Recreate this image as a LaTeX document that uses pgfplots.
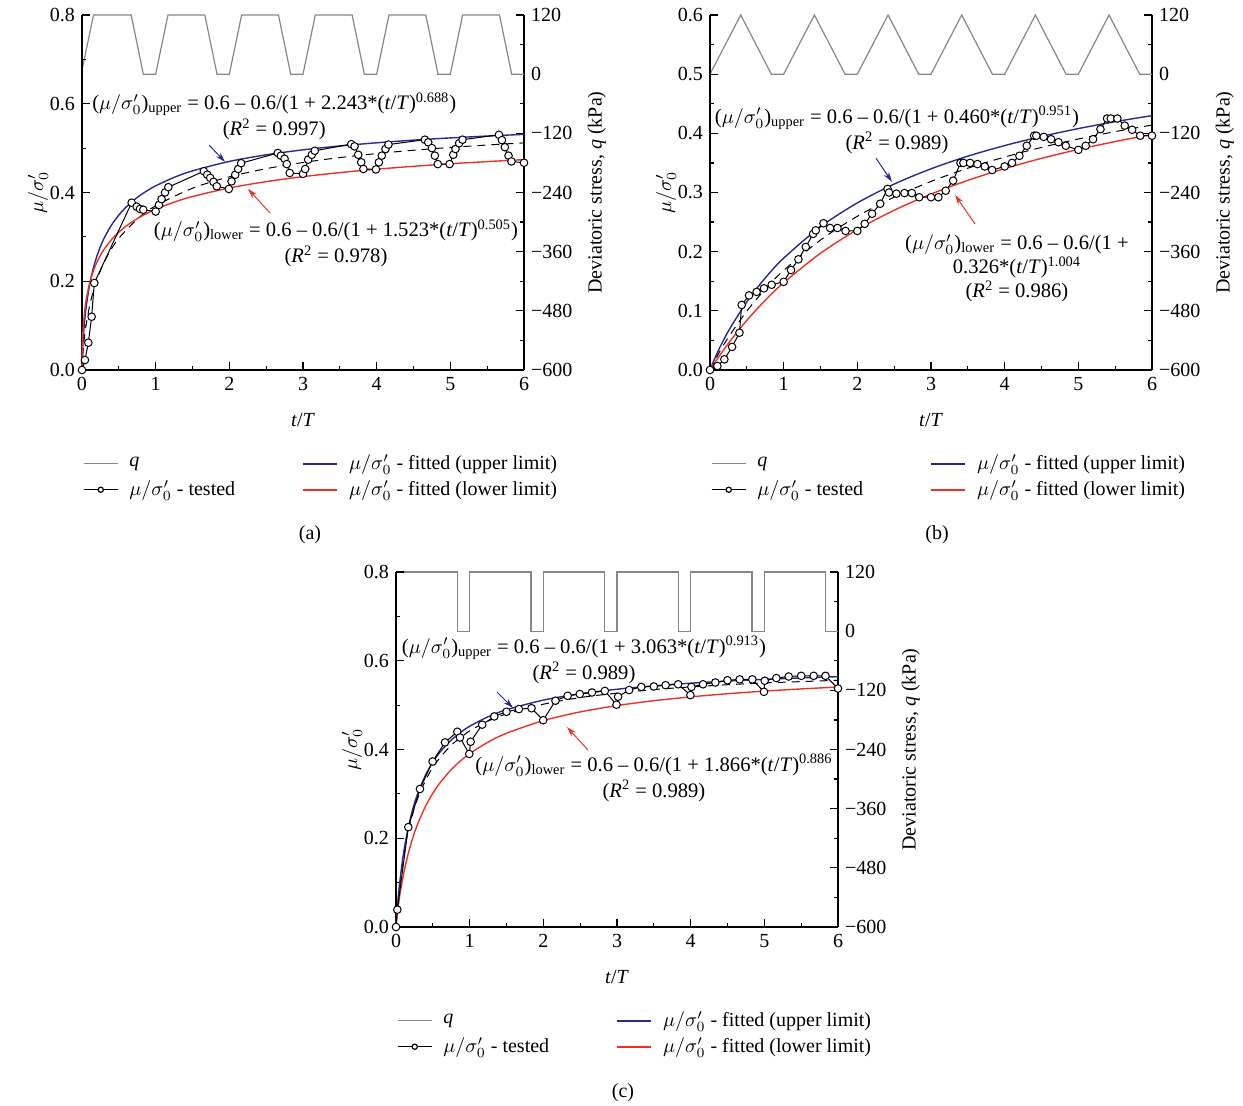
\documentclass[border=0pt]{standalone}
\usepackage{pgfplots}
\pgfplotsset{compat=1.18}
\usepackage{fontspec}
\setmainfont{Liberation Serif}
\usetikzlibrary{arrows.meta}
\definecolor{fitBlue}{RGB}{40,40,150}
\definecolor{fitRed}{RGB}{237,50,36}
\definecolor{qGray}{RGB}{135,135,135}

\tikzset{
  note/.style={align=center, font=\fontsize{10.3}{13}\selectfont},
  upar/.style={fitBlue, line width=0.5pt, -{Stealth[length=5pt,width=3pt]}},
  lowar/.style={fitRed, line width=0.5pt, -{Stealth[length=5pt,width=3pt]}},
}
\pgfplotsset{
  panel/.style={scale only axis, width=221pt, height=177.5pt, xmin=0, xmax=6,
    tick align=inside, major tick length=4pt, minor tick length=2pt,
    every tick/.style={black, line width=0.6pt}, axis line style={line width=0.8pt},
    font=\fontsize{10}{12}\selectfont, clip=false},
  leftax/.style={panel, axis x line*=bottom, axis y line*=left,
    xtick={0,...,6}, xticklabels={0,1,2,3,4,5,6}, minor x tick num=1,
    xlabel={\textit{t}/\textit{T}}, ylabel={$\mu/\sigma'_0$},
    x label style={at={(axis description cs:0.5,-0.141)}, anchor=center},
    y label style={at={(axis description cs:-0.0995,0.5)}, anchor=center},
    legend style={draw=none, fill=none, at={(axis description cs:-0.012,-0.215)},
      anchor=north west, font=\fontsize{10}{12}\selectfont,
      /tikz/every odd column/.append style={column sep=3.5pt},
      /tikz/every even column/.append style={column sep=31.5pt}},
    legend columns=2, legend cell align=left},
  rightax/.style={panel, axis x line=none, axis y line*=right,
    ymin=-600, ymax=120, ytick={-600,-480,...,120},
    yticklabels={−600,−480,−360,−240,−120,0,120}, minor y tick num=1,
    ylabel={Deviatoric stress, \textit{q} (kPa)},
    y label style={at={(axis description cs:1.165,0.5)}, anchor=center}},
  qline/.style={qGray, line width=0.6pt},
  upline/.style={fitBlue, line width=0.7pt},
  lowline/.style={fitRed, line width=0.7pt},
  meanline/.style={black, line width=0.5pt, dash pattern=on 4pt off 3pt},
  tested/.style={black, line width=0.5pt, mark=*, mark size=1.9pt,
    mark options={fill=white, draw=black, solid}},
}

\begin{document}
\begin{tikzpicture}

% ---------------- (a) ----------------
\begin{axis}[rightax, at={(41pt,368pt)}, anchor=south west]
\addplot[qline] coordinates {(0,8) (0.156,120) (0.667,120) (0.833,0) (1,0) (1.167,120) (1.667,120) (1.833,0) (2,0) (2.167,120) (2.667,120) (2.833,0) (3,0) (3.167,120) (3.667,120) (3.833,0) (4,0) (4.167,120) (4.667,120) (4.833,0) (5,0) (5.167,120) (5.667,120) (5.833,0) (6,0)};
\end{axis}
\begin{axis}[leftax, at={(41pt,368pt)}, anchor=south west,
  ymin=0, ymax=0.8, ytick={0,0.2,...,0.8}, yticklabels={0.0,0.2,0.4,0.6,0.8}, minor y tick num=1]
\addlegendimage{color=qGray, line width=0.6pt}\addlegendentry{\textit{q}}
\addlegendimage{color=fitBlue, line width=0.9pt}\addlegendentry{$\mu/\sigma'_0$ - fitted (upper limit)}
\addlegendimage{color=black, line width=0.6pt, mark=*, mark size=1.3pt, mark options={fill=white}}\addlegendentry{$\mu/\sigma'_0$ - tested}
\addlegendimage{color=fitRed, line width=0.9pt}\addlegendentry{$\mu/\sigma'_0$ - fitted (lower limit)}
\addplot[meanline, smooth, forget plot] coordinates {(0,0) (0.02,0.0534) (0.05,0.0951) (0.1,0.1418) (0.15,0.1756) (0.2,0.2022) (0.3,0.2428) (0.4,0.273) (0.5,0.2969) (0.75,0.3402) (1,0.37) (1.5,0.4096) (2,0.4353) (2.5,0.4537) (3,0.4676) (3.5,0.4787) (4,0.4877) (4.5,0.4952) (5,0.5015) (5.5,0.507) (6,0.5118)};
\addplot[upline, smooth, forget plot] coordinates {(0,0) (0.005,0.0332) (0.01,0.0518) (0.02,0.0792) (0.05,0.1333) (0.1,0.189) (0.15,0.2269) (0.2,0.2554) (0.25,0.2781) (0.3,0.297) (0.4,0.3266) (0.5,0.349) (0.6,0.3673) (0.75,0.389) (0.875,0.403) (1,0.415) (1.25,0.434) (1.5,0.4487) (2,0.470) (2.5,0.4849) (3,0.4961) (3.5,0.5049) (4,0.512) (4.5,0.518) (5,0.523) (5.5,0.5272) (6,0.531)};
\addplot[lowline, smooth, forget plot] coordinates {(0,0) (0.005,0.057) (0.01,0.0777) (0.02,0.1046) (0.05,0.1507) (0.1,0.1935) (0.15,0.2213) (0.2,0.242) (0.25,0.2584) (0.3,0.272) (0.4,0.2937) (0.5,0.3106) (0.6,0.3244) (0.75,0.3411) (0.875,0.3524) (1,0.3622) (1.25,0.3782) (1.5,0.3909) (2,0.4102) (2.5,0.4245) (3,0.4357) (3.5,0.4448) (4,0.4525) (4.5,0.459) (5,0.4647) (5.5,0.4696) (6,0.4741)};
\addplot[tested, forget plot] coordinates {(0,0) (0.04,0.0225) (0.086,0.0615) (0.131,0.12) (0.167,0.196) (0.674,0.377) (0.742,0.368) (0.787,0.363) (0.832,0.361) (1.0,0.357) (1.045,0.372) (1.08,0.385) (1.127,0.400) (1.172,0.412) (1.654,0.448) (1.70,0.440) (1.74,0.433) (1.785,0.424) (1.83,0.414) (1.993,0.408) (2.03,0.425) (2.08,0.440) (2.12,0.453) (2.16,0.466) (2.657,0.489) (2.70,0.483) (2.75,0.476) (2.78,0.464) (2.82,0.444) (3.0,0.442) (3.03,0.453) (3.07,0.474) (3.12,0.485) (3.16,0.494) (3.655,0.509) (3.70,0.504) (3.75,0.485) (3.79,0.468) (3.82,0.453) (3.99,0.452) (4.03,0.468) (4.07,0.483) (4.12,0.498) (4.16,0.508) (4.654,0.519) (4.70,0.513) (4.75,0.500) (4.79,0.483) (4.83,0.464) (4.99,0.464) (5.04,0.485) (5.07,0.498) (5.12,0.511) (5.165,0.519) (5.66,0.530) (5.70,0.518) (5.74,0.502) (5.79,0.483) (5.83,0.470) (6.0,0.467)};
\node[note] at (axis cs:2.61,0.572) {($\mu/\sigma'_0$)\textsubscript{upper} = 0.6 – 0.6/(1 + 2.243*(\textit{t}/\textit{T})\textsuperscript{0.688})\\(\textit{R}\textsuperscript{2} = 0.997)};
\draw[upar] (axis cs:1.724,0.507) -- (axis cs:1.941,0.469);
\node[note] at (axis cs:3.448,0.286) {($\mu/\sigma'_0$)\textsubscript{lower} = 0.6 – 0.6/(1 + 1.523*(\textit{t}/\textit{T})\textsuperscript{0.505})\\(\textit{R}\textsuperscript{2} = 0.978)};
\draw[lowar] (axis cs:2.552,0.354) -- (axis cs:2.253,0.408);
\end{axis}

% ---------------- (b) ----------------
\begin{axis}[rightax, at={(355pt,368pt)}, anchor=south west]
\addplot[qline] coordinates {(0,0) (0.417,120) (0.833,0) (1,0) (1.417,120) (1.833,0) (2,0) (2.417,120) (2.833,0) (3,0) (3.417,120) (3.833,0) (4,0) (4.417,120) (4.833,0) (5,0) (5.417,120) (5.833,0) (6,0)};
\end{axis}
\begin{axis}[leftax, at={(355pt,368pt)}, anchor=south west,
  ymin=0, ymax=0.6, ytick={0,0.1,...,0.6}, yticklabels={0.0,0.1,0.2,0.3,0.4,0.5,0.6}, minor y tick num=1]
\addlegendimage{color=qGray, line width=0.6pt}\addlegendentry{\textit{q}}
\addlegendimage{color=fitBlue, line width=0.9pt}\addlegendentry{$\mu/\sigma'_0$ - fitted (upper limit)}
\addlegendimage{color=black, line width=0.6pt, mark=*, mark size=1.3pt, mark options={fill=white}}\addlegendentry{$\mu/\sigma'_0$ - tested}
\addlegendimage{color=fitRed, line width=0.9pt}\addlegendentry{$\mu/\sigma'_0$ - fitted (lower limit)}
\addplot[meanline, smooth, forget plot] coordinates {(0,0) (0.1,0.0241) (0.25,0.0554) (0.5,0.0996) (0.75,0.1367) (1,0.1683) (1.5,0.2197) (2,0.2598) (2.5,0.2921) (3,0.3187) (3.5,0.341) (4,0.3599) (4.5,0.3762) (5,0.3904) (5.5,0.4029) (6,0.414)};
\addplot[upline, smooth, forget plot] coordinates {(0,0) (0.1,0.0294) (0.25,0.0658) (0.5,0.1153) (0.75,0.1555) (1,0.189) (1.5,0.2421) (2,0.2824) (2.5,0.3142) (3,0.34) (3.5,0.3614) (4,0.3793) (4.5,0.3947) (5,0.408) (5.5,0.4197) (6,0.4299)};
\addplot[lowline, smooth, forget plot] coordinates {(0,0) (0.1,0.0188) (0.25,0.045) (0.5,0.0839) (0.75,0.1178) (1,0.1475) (1.5,0.1973) (2,0.2372) (2.5,0.27) (3,0.2973) (3.5,0.3205) (4,0.3404) (4.5,0.3577) (5,0.3728) (5.5,0.3861) (6,0.398)};
\addplot[tested, forget plot] coordinates {(0,0) (0.10,0.0067) (0.195,0.018) (0.30,0.039) (0.40,0.063) (0.43,0.110) (0.53,0.126) (0.633,0.132) (0.733,0.138) (0.837,0.144) (1.0,0.149) (1.10,0.169) (1.20,0.187) (1.30,0.208) (1.40,0.230) (1.435,0.236) (1.54,0.248) (1.63,0.240) (1.73,0.240) (1.84,0.235) (2.0,0.235) (2.10,0.247) (2.20,0.264) (2.31,0.281) (2.41,0.306) (2.43,0.300) (2.53,0.298) (2.64,0.299) (2.74,0.299) (2.84,0.292) (3.0,0.292) (3.10,0.292) (3.20,0.303) (3.30,0.320) (3.40,0.350) (3.44,0.350) (3.53,0.350) (3.63,0.348) (3.73,0.344) (3.83,0.338) (4.0,0.344) (4.10,0.350) (4.20,0.362) (4.30,0.379) (4.40,0.396) (4.43,0.396) (4.53,0.394) (4.63,0.390) (4.73,0.385) (4.83,0.379) (5.0,0.372) (5.10,0.379) (5.20,0.390) (5.30,0.407) (5.39,0.425) (5.44,0.425) (5.53,0.425) (5.63,0.413) (5.73,0.406) (5.84,0.396) (6.0,0.396)};
\node[note] at (axis cs:2.538,0.4056) {($\mu/\sigma'_0$)\textsubscript{upper} = 0.6 – 0.6/(1 + 0.460*(\textit{t}/\textit{T})\textsuperscript{0.951})\\(\textit{R}\textsuperscript{2} = 0.989)};
\draw[upar] (axis cs:2.253,0.358) -- (axis cs:2.47,0.318);
\node[note, font=\fontsize{10.3}{12}\selectfont] at (axis cs:4.167,0.1724) {($\mu/\sigma'_0$)\textsubscript{lower} = 0.6 – 0.6/(1 +\\0.326*(\textit{t}/\textit{T})\textsuperscript{1.004}\\(\textit{R}\textsuperscript{2} = 0.986)};
\draw[lowar] (axis cs:3.597,0.2468) -- (axis cs:3.326,0.2958);
\end{axis}

% ---------------- (c) ----------------
\begin{axis}[rightax, at={(198pt,89.5pt)}, anchor=south west]
\addplot[qline] coordinates {(0,120) (0.833,120) (0.833,0) (1,0) (1,120) (1.833,120) (1.833,0) (2,0) (2,120) (2.833,120) (2.833,0) (3,0) (3,120) (3.833,120) (3.833,0) (4,0) (4,120) (4.833,120) (4.833,0) (5,0) (5,120) (5.833,120) (5.833,0) (6,0)};
\end{axis}
\begin{axis}[leftax, at={(198pt,89.5pt)}, anchor=south west,
  ymin=0, ymax=0.8, ytick={0,0.2,...,0.8}, yticklabels={0.0,0.2,0.4,0.6,0.8}, minor y tick num=1]
\addlegendimage{color=qGray, line width=0.6pt}\addlegendentry{\textit{q}}
\addlegendimage{color=fitBlue, line width=0.9pt}\addlegendentry{$\mu/\sigma'_0$ - fitted (upper limit)}
\addlegendimage{color=black, line width=0.6pt, mark=*, mark size=1.3pt, mark options={fill=white}}\addlegendentry{$\mu/\sigma'_0$ - tested}
\addlegendimage{color=fitRed, line width=0.9pt}\addlegendentry{$\mu/\sigma'_0$ - fitted (lower limit)}
\addplot[meanline, smooth, forget plot] coordinates {(0,0) (0.02,0.045) (0.05,0.094) (0.1,0.155) (0.15,0.204) (0.2,0.238) (0.25,0.268) (0.3,0.292) (0.4,0.33) (0.5,0.36) (0.6,0.382) (0.75,0.41) (0.875,0.426) (1,0.442) (1.25,0.464) (1.5,0.48) (2,0.502) (2.5,0.517) (3,0.527) (3.5,0.535) (4,0.541) (4.5,0.546) (5,0.55) (5.5,0.553) (6,0.556)};
\addplot[upline, smooth, forget plot] coordinates {(0,0) (0.005,0.0142) (0.01,0.0262) (0.02,0.0476) (0.05,0.0995) (0.1,0.1634) (0.15,0.2109) (0.2,0.248) (0.25,0.2781) (0.3,0.303) (0.4,0.3421) (0.5,0.3716) (0.6,0.3946) (0.75,0.4212) (0.875,0.4383) (1,0.4523) (1.25,0.4738) (1.5,0.4896) (2,0.5113) (2.5,0.5257) (3,0.5358) (3.5,0.5435) (4,0.5494) (4.5,0.5542) (5,0.5581) (5.5,0.5613) (6,0.5641)};
\addplot[lowline, smooth, forget plot] coordinates {(0,0) (0.005,0.0101) (0.01,0.0183) (0.02,0.033) (0.05,0.0696) (0.1,0.1171) (0.15,0.1547) (0.2,0.1857) (0.25,0.212) (0.3,0.2346) (0.4,0.2719) (0.5,0.3014) (0.6,0.3256) (0.75,0.3547) (0.875,0.3743) (1,0.3906) (1.25,0.4167) (1.5,0.4366) (2,0.4651) (2.5,0.4847) (3,0.499) (3.5,0.5099) (4,0.5186) (4.5,0.5257) (5,0.5316) (5.5,0.5365) (6,0.5408)};
\addplot[tested, forget plot] coordinates {(0,0) (0.018,0.039) (0.167,0.225) (0.325,0.311) (0.497,0.373) (0.665,0.416) (0.832,0.440) (0.868,0.427) (0.995,0.390) (1.013,0.4175) (1.17,0.456) (1.334,0.4745) (1.50,0.485) (1.668,0.491) (1.84,0.493) (1.998,0.466) (2.165,0.51) (2.33,0.521) (2.495,0.525) (2.66,0.5285) (2.835,0.532) (2.993,0.501) (3.015,0.519) (3.165,0.534) (3.33,0.541) (3.50,0.542) (3.66,0.545) (3.83,0.547) (3.996,0.5225) (4.01,0.541) (4.168,0.547) (4.335,0.551) (4.50,0.556) (4.665,0.558) (4.837,0.558) (4.995,0.530) (5.005,0.555) (5.163,0.561) (5.33,0.5645) (5.50,0.566) (5.67,0.566) (5.83,0.566) (6.0,0.5375)};
\node[note] at (axis cs:2.552,0.6017) {($\mu/\sigma'_0$)\textsubscript{upper} = 0.6 – 0.6/(1 + 3.063*(\textit{t}/\textit{T})\textsuperscript{0.913})\\(\textit{R}\textsuperscript{2} = 0.989)};
\draw[upar] (axis cs:1.371,0.5296) -- (axis cs:1.588,0.4935);
\node[note] at (axis cs:3.502,0.3358) {($\mu/\sigma'_0$)\textsubscript{lower} = 0.6 – 0.6/(1 + 1.866*(\textit{t}/\textit{T})\textsuperscript{0.886}\\(\textit{R}\textsuperscript{2} = 0.989)};
\draw[lowar] (axis cs:2.606,0.3988) -- (axis cs:2.321,0.4507);
\end{axis}

\node[font=\fontsize{10}{12}\selectfont] at (155pt,285.5pt) {(a)};
\node[font=\fontsize{10}{12}\selectfont] at (468.5pt,285.5pt) {(b)};
\node[font=\fontsize{10}{12}\selectfont] at (311.5pt,6.5pt) {(c)};

\pgfresetboundingbox
\path (0pt,0pt) rectangle (621.5pt,553pt);
\end{tikzpicture}
\end{document}
